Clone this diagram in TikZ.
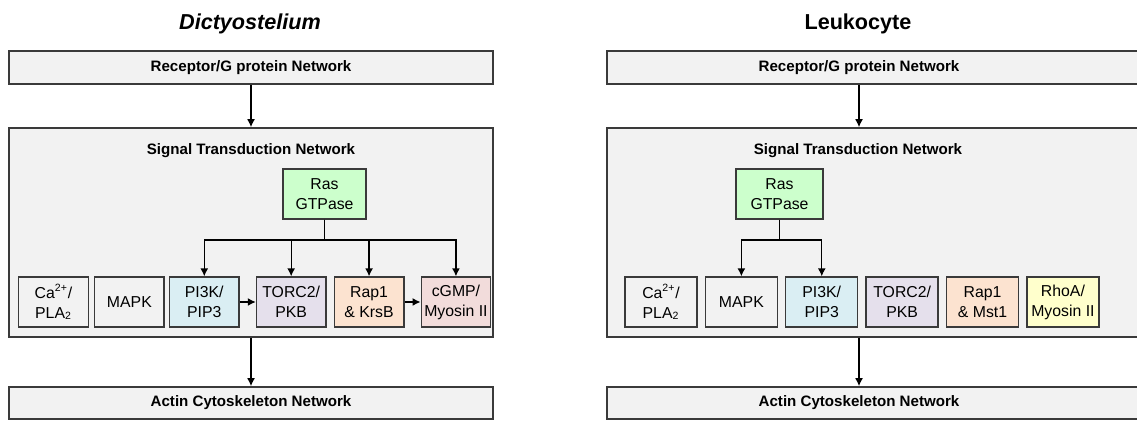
\documentclass[tikz,border=0pt]{standalone}
\usepackage{fontspec}
\setmainfont{Liberation Sans}
\usetikzlibrary{positioning,arrows.meta}
\definecolor{panel}{HTML}{F2F2F2}
\definecolor{rim}{HTML}{3A3A3A}
\definecolor{ras}{HTML}{CCFFCC}
\definecolor{pik}{HTML}{DAEEF3}
\definecolor{torc}{HTML}{E5E0EC}
\definecolor{rap}{HTML}{FCE3D0}
\definecolor{cgmp}{HTML}{F2DCDB}
\definecolor{rhoa}{HTML}{FFFFCC}

\begin{document}
\begin{tikzpicture}[x=0.02cm,y=-0.02cm,>={Latex[length=4.5pt,width=4.5pt]},line width=0.7pt]
        \tikzstyle{net}=[draw=rim,line width=1pt,fill=panel,inner sep=0pt,font=\fontsize{8.6}{10}\selectfont\bfseries]
        \tikzstyle{hdr}=[inner sep=0pt,font=\fontsize{8.6}{10}\selectfont\bfseries]
        \tikzstyle{ttl}=[inner sep=0pt,anchor=base,font=\fontsize{12.3}{14}\selectfont\bfseries]
        \tikzstyle{mol}=[draw=rim,line width=0.8pt,fill=panel,minimum width=1.39cm,minimum height=1cm,inner sep=0pt,align=center,font=\fontsize{9}{11.3}\selectfont]
        \useasboundingbox (0,0) rectangle (1137,421);
        \clip (0,0) rectangle (1137,421);

        \node[ttl] (TL) at (250,30) {\itshape Dictyostelium};
        \node[ttl] (TR) at (858,30) {Leukocyte};

        \node[net,minimum width=9.68cm,minimum height=0.66cm] (RecL) at (251,67.5) {Receptor/G protein Network};
        \node[net,minimum width=9.68cm,minimum height=4.18cm] (SigL) at (251,232.5) {};
        \node[net,minimum width=9.68cm,minimum height=0.64cm] (ActL) at (251,403) {Actin Cytoskeleton Network};
        \node[hdr,anchor=base] (StL) at (251,155) {Signal Transduction Network};

        \node[mol,fill=ras,minimum width=1.66cm] (RasL) at (324.5,194) {Ras\\GTPase};
        \node[mol] (CaL) at (53.5,302) {Ca\textsuperscript{2+}/\\PLA\textsubscript{2}};
        \node[mol] (MkL) [right=0.1cm of CaL] {MAPK};
        \node[mol,fill=pik] (PiL) [right=0.08cm of MkL] {PI3K/\\PIP3};
        \node[mol,fill=torc] (ToL) [right=0.32cm of PiL] {TORC2/\\PKB};
        \node[mol,fill=rap] (RpL) [right=0.14cm of ToL] {Rap1\\\& KrsB};
        \node[mol,fill=cgmp] (CgL) [right=0.32cm of RpL] {cGMP/\\Myosin II};
        \coordinate (jL) at (324.5,240);

        \path[->] (RecL) edge (SigL)
                  (SigL) edge (ActL)
                  (PiL) edge (ToL)
                  (RpL) edge (CgL);
        \draw[->] (RasL) -- (jL) -| (PiL);
        \draw[->] (RasL) -- (jL) -| (ToL);
        \draw[->] (RasL) -- (jL) -| (RpL);
        \draw[->] (RasL) -- (jL) -| (CgL);

        \node[net,minimum width=10.66cm,minimum height=0.66cm] (RecR) at (873.5,67.5) {};
        \node[net,minimum width=10.66cm,minimum height=4.18cm] (SigR) at (873.5,232.5) {};
        \node[net,minimum width=10.66cm,minimum height=0.64cm] (ActR) at (873.5,403) {};
        \node[hdr] (RecRt) at (859,67.5) {Receptor/G protein Network};
        \node[hdr,anchor=base] (StR) at (858,155) {Signal Transduction Network};
        \node[hdr] (ActRt) at (859,403) {Actin Cytoskeleton Network};

        \node[mol,fill=ras,minimum width=1.74cm] (RasR) at (779.5,194) {Ras\\GTPase};
        \node[mol,minimum width=1.44cm] (CaR) at (661,302) {Ca\textsuperscript{2+}/\\PLA\textsubscript{2}};
        \node[mol,minimum width=1.44cm] (MkR) [right=0.14cm of CaR] {MAPK};
        \node[mol,minimum width=1.44cm,fill=pik] (PiR) [right=0.14cm of MkR] {PI3K/\\PIP3};
        \node[mol,minimum width=1.44cm,fill=torc] (ToR) [right=0.14cm of PiR] {TORC2/\\PKB};
        \node[mol,minimum width=1.44cm,fill=rap] (RpR) [right=0.14cm of ToR] {Rap1\\\& Mst1};
        \node[mol,minimum width=1.44cm,fill=rhoa] (RhR) [right=0.14cm of RpR] {RhoA/\\Myosin II};
        \coordinate (jR) at (779.5,240);
        \coordinate (aR) at (859,0);

        \draw[->] (RecR.south -| aR) -- (SigR.north -| aR);
        \draw[->] (SigR.south -| aR) -- (ActR.north -| aR);
        \draw[->] (RasR) -- (jR) -| (MkR);
        \draw[->] (RasR) -- (jR) -| (PiR);
\end{tikzpicture}
\end{document}
